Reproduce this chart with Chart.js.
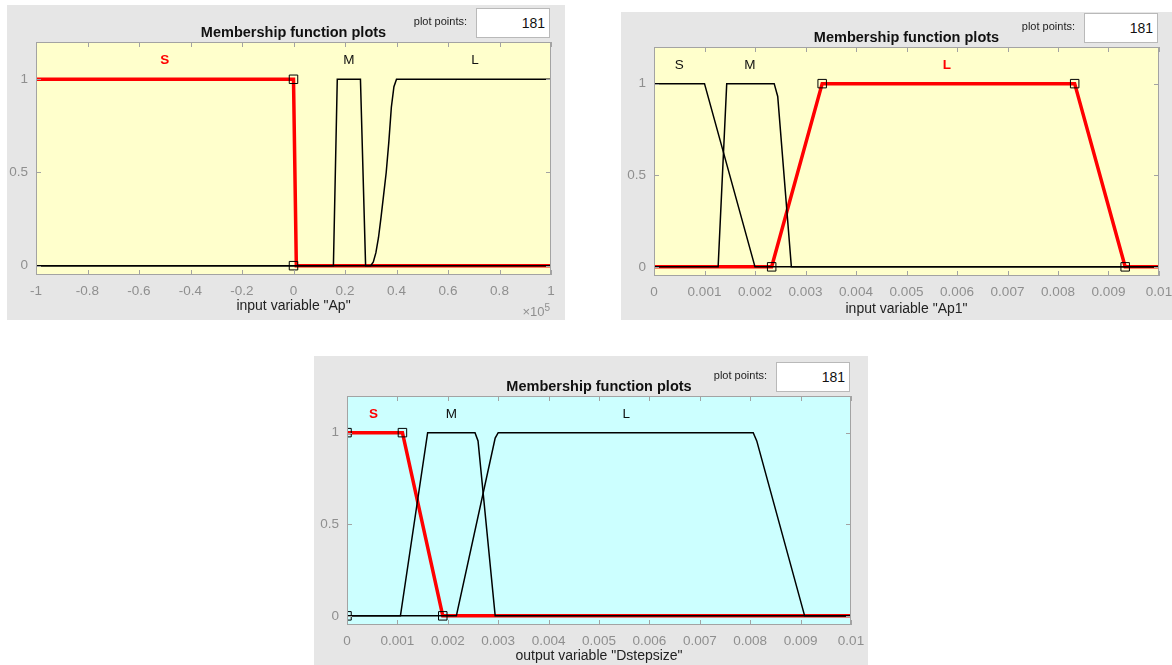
<!DOCTYPE html>
<html>
<head>
<meta charset="utf-8">
<title>Membership function plots</title>
<script src="https://cdn.jsdelivr.net/npm/chart.js@4.4.1/dist/chart.umd.min.js"></script>
<style>
  body { margin: 0; background: #fff; font-family: "Liberation Sans", Arial, sans-serif; }
  .panel { position: absolute; background: #e6e6e6; }
  .panel canvas { position: absolute; left: 0; top: 0; }
  .ttl { position: absolute; font-weight: bold; font-size: 14.5px; color: #111; white-space: nowrap; transform: translate(-50%, -50%); }
  .pp { position: absolute; font-size: 11px; color: #222; white-space: nowrap; transform: translate(-100%, -50%); }
  .box { position: absolute; background: #fff; border: 1px solid #b9b9b9; box-sizing: border-box; font-size: 14px; color: #111; text-align: right; padding-right: 4px; }
  .exp { position: absolute; font-size: 13px; color: #8f8f8f; white-space: nowrap; transform: translateX(-100%); }
  .exp sup { font-size: 10px; }
</style>
</head>
<body>
<script>
// input "Ap" (x values in raw units, axis shows x10^5)
var apS_x = [-100000, 0, 1100, 100000];
var apS_y = [1, 1, 0, 0];
var apM_x = [-100000, 15500, 17000, 26000, 28000, 100000];
var apM_y = [0, 0, 1, 1, 0, 0];
var apL_x = [-100000, 30000, 31000, 32000, 33000, 34000, 35000, 36000, 37000, 38000, 39000, 40000, 100000];
var apL_y = [0, 0, 0.02, 0.07, 0.15, 0.26, 0.38, 0.5, 0.66, 0.85, 0.96, 1, 1];
var apMark_x = [0, 0];
var apMark_y = [1, 0];
var apNames = ['S', 'M', 'L'];
var apNames_x = [-50000, 21500, 70500];

// input "Ap1"
var ap1S_x = [0, 0.001, 0.002, 0.01];
var ap1S_y = [1, 1, 0, 0];
var ap1M_x = [0, 0.00127, 0.00144, 0.00238, 0.00245, 0.00272, 0.01];
var ap1M_y = [0, 0, 1, 1, 0.93, 0, 0];
var ap1L_x = [0, 0.00233, 0.00333, 0.00833, 0.00933, 0.01];
var ap1L_y = [0, 0, 1, 1, 0, 0];
var ap1Mark_x = [0.00233, 0.00333, 0.00833, 0.00933];
var ap1Mark_y = [0, 1, 1, 0];
var ap1Names = ['S', 'M', 'L'];
var ap1Names_x = [0.0005, 0.0019, 0.0058];

// output "Dstepsize"
var dsS_x = [0, 0.0011, 0.0019, 0.01];
var dsS_y = [1, 1, 0, 0];
var dsM_x = [0, 0.00106, 0.0016, 0.00254, 0.0026, 0.00294, 0.01];
var dsM_y = [0, 0, 1, 1, 0.955, 0, 0];
var dsL_x = [0, 0.00217, 0.00294, 0.003, 0.00806, 0.00813, 0.00908, 0.01];
var dsL_y = [0, 0, 0.97, 1, 1, 0.955, 0, 0];
var dsMark_x = [0, 0, 0.0011, 0.0019];
var dsMark_y = [0, 1, 1, 0];
var dsNames = ['S', 'M', 'L'];
var dsNames_x = [0.000525, 0.00207, 0.00554];

var yTicks = [0, 0.5, 1];
var nameY = 1.1;
var plotPoints = '181';

function pts(xs, ys) {
    return xs.map(function(x, i) { return {x: x, y: ys[i]}; });
}

var FONT = '"Liberation Sans", Arial, sans-serif';

var panels = [
    {box: [7, 5, 558, 315], plot: [36, 42, 551, 275], axH: 40, fill: '#ffffcc',
     xMin: -100000, xMax: 100000, xStep: 20000, xTitle: 'input variable "Ap"',
     fmt: function(v) { return String(Math.round(v / 1e4) / 10); },
     mfs: [pts(apS_x, apS_y), pts(apM_x, apM_y), pts(apL_x, apL_y)], sel: 0,
     marks: pts(apMark_x, apMark_y), names: apNames, names_x: apNames_x, exp: true},
    {box: [621, 12, 551, 308], plot: [654, 47, 1159, 276], axH: 42, fill: '#ffffcc',
     xMin: 0, xMax: 0.01, xStep: 0.001, xTitle: 'input variable "Ap1"',
     fmt: function(v) { return String(+v.toFixed(4)); },
     mfs: [pts(ap1S_x, ap1S_y), pts(ap1M_x, ap1M_y), pts(ap1L_x, ap1L_y)], sel: 2,
     marks: pts(ap1Mark_x, ap1Mark_y), names: ap1Names, names_x: ap1Names_x},
    {box: [314, 356, 554, 309], plot: [347, 396, 851, 625], axH: 40, fill: '#ccffff',
     xMin: 0, xMax: 0.01, xStep: 0.001, xTitle: 'output variable "Dstepsize"',
     fmt: function(v) { return String(+v.toFixed(4)); },
     mfs: [pts(dsS_x, dsS_y), pts(dsM_x, dsM_y), pts(dsL_x, dsL_y)], sel: 0,
     marks: pts(dsMark_x, dsMark_y), names: dsNames, names_x: dsNames_x}
];

var AXW = 30;

// plot background, frame, inward ticks and MF names
var framePlugin = {
    id: 'frame',
    beforeDatasetsDraw: function(chart) {
        var a = chart.chartArea, ctx = chart.ctx;
        ctx.save();
        ctx.fillStyle = chart.options.plugins.frame.fill;
        ctx.fillRect(a.left, a.top, a.right - a.left, a.bottom - a.top);
        ctx.restore();
    },
    afterDatasetsDraw: function(chart) {
        var a = chart.chartArea, ctx = chart.ctx, o = chart.options.plugins.frame;
        var xs = chart.scales.x, ys = chart.scales.y;
        ctx.save();
        ctx.strokeStyle = '#a3a3a3';
        ctx.lineWidth = 1;
        ctx.strokeRect(Math.round(a.left) + 0.5, Math.round(a.top) + 0.5, Math.round(a.right - a.left) - 1, Math.round(a.bottom - a.top) - 1);
        ctx.beginPath();
        xs.ticks.forEach(function(t) {
            var px = Math.round(xs.getPixelForValue(t.value)) + 0.5;
            ctx.moveTo(px, a.bottom); ctx.lineTo(px, a.bottom - 5);
            ctx.moveTo(px, a.top); ctx.lineTo(px, a.top + 5);
        });
        ys.ticks.forEach(function(t) {
            var py = Math.round(ys.getPixelForValue(t.value)) + 0.5;
            ctx.moveTo(a.left, py); ctx.lineTo(a.left + 5, py);
            ctx.moveTo(a.right, py); ctx.lineTo(a.right - 5, py);
        });
        ctx.stroke();
        ctx.textAlign = 'center';
        ctx.textBaseline = 'middle';
        o.names.forEach(function(n, i) {
            var isSel = i === o.sel;
            ctx.font = (isSel ? 'bold ' : '') + '13.5px ' + FONT;
            ctx.fillStyle = isSel ? '#ff0000' : '#111';
            ctx.fillText(n, xs.getPixelForValue(o.names_x[i]), ys.getPixelForValue(nameY));
        });
        ctx.restore();
    }
};

panels.forEach(function(p) {
    var bx = p.box[0], by = p.box[1], bw = p.box[2], bh = p.box[3];
    var pl = p.plot[0], pt = p.plot[1], pr = p.plot[2], pb = p.plot[3];

    var div = document.createElement('div');
    div.className = 'panel';
    div.style.left = bx + 'px'; div.style.top = by + 'px';
    div.style.width = bw + 'px'; div.style.height = bh + 'px';
    document.body.appendChild(div);

    var cv = document.createElement('canvas');
    cv.width = bw; cv.height = bh;
    cv.style.width = bw + 'px'; cv.style.height = bh + 'px';
    div.appendChild(cv);

    var ttl = document.createElement('div');
    ttl.className = 'ttl';
    ttl.textContent = 'Membership function plots';
    ttl.style.left = ((pl + pr) / 2 - bx) + 'px';
    ttl.style.top = (pt - 10 - by) + 'px';
    div.appendChild(ttl);

    var box = document.createElement('div');
    box.className = 'box';
    box.style.left = (pr - 75 - bx) + 'px';
    box.style.top = (pt - 34 - by) + 'px';
    box.style.width = '74px'; box.style.height = '30px';
    box.style.lineHeight = '28px';
    box.textContent = plotPoints;
    div.appendChild(box);

    var pp = document.createElement('div');
    pp.className = 'pp';
    pp.textContent = 'plot points:';
    pp.style.left = (pr - 84 - bx) + 'px';
    pp.style.top = (pt - 21 - by) + 'px';
    div.appendChild(pp);

    if (p.exp) {
        var ex = document.createElement('div');
        ex.className = 'exp';
        ex.innerHTML = '\u00d710<sup>5</sup>';
        ex.style.left = (pr - 1 - bx) + 'px';
        ex.style.top = (pb + 27 - by) + 'px';
        div.appendChild(ex);
    }

    var datasets = [{
        data: p.marks, showLine: false, pointStyle: 'rect', pointRadius: 6,
        pointBackgroundColor: 'rgba(0,0,0,0)', pointBorderColor: '#000', pointBorderWidth: 1, order: 0
    }];
    p.mfs.forEach(function(d, i) {
        var isSel = i === p.sel;
        datasets.push({
            data: d, showLine: true, pointRadius: 0,
            borderColor: isSel ? '#ff0000' : '#000',
            borderWidth: isSel ? 3.5 : 1.5,
            order: isSel ? 2 : 1
        });
    });

    var tickFont = {family: FONT, size: 13.5};
    new Chart(cv.getContext('2d'), {
        type: 'scatter',
        data: {datasets: datasets},
        options: {
            responsive: false,
            animation: false,
            events: [],
            layout: {padding: {left: pl - bx - AXW, top: pt - by, right: bx + bw - pr, bottom: by + bh - pb - p.axH}},
            plugins: {
                legend: {display: false},
                tooltip: {enabled: false},
                frame: {fill: p.fill, names: p.names, names_x: p.names_x, sel: p.sel}
            },
            scales: {
                x: {
                    type: 'linear', min: p.xMin, max: p.xMax,
                    afterFit: function(s) { s.height = p.axH; s.paddingLeft = 0; s.paddingRight = 0; },
                    grid: {display: false, drawTicks: false},
                    border: {display: false},
                    ticks: {stepSize: p.xStep, autoSkip: false, maxRotation: 0, padding: 8, color: '#8f8f8f', font: tickFont, callback: p.fmt},
                    title: {display: true, text: p.xTitle, color: '#222', font: {family: FONT, size: 14}, padding: 0}
                },
                y: {
                    min: -0.05, max: 1.2,
                    afterFit: function(s) { s.width = AXW; s.paddingTop = 0; s.paddingBottom = 0; },
                    afterBuildTicks: function(s) { s.ticks = yTicks.map(function(v) { return {value: v}; }); },
                    grid: {display: false, drawTicks: false},
                    border: {display: false},
                    ticks: {padding: 8, color: '#8f8f8f', font: tickFont, callback: function(v) { return String(v); }}
                }
            }
        },
        plugins: [framePlugin]
    });
});
</script>
</body>
</html>
